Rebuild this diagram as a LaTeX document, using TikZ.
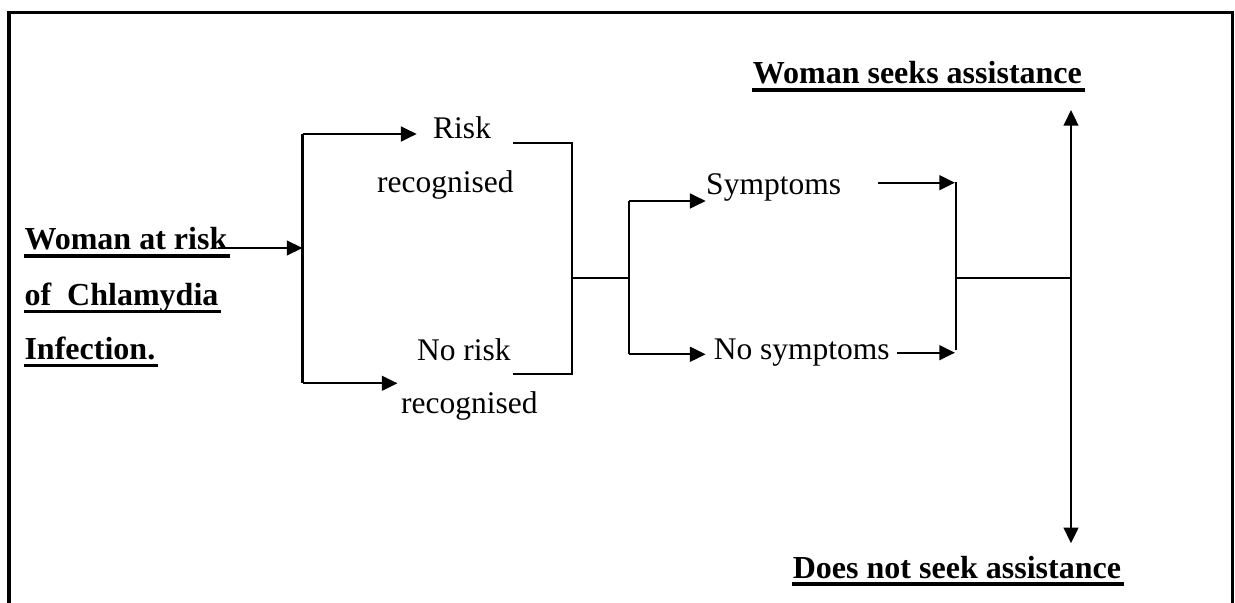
\documentclass[tikz,border=0pt]{standalone}
\usepackage{fontspec}
\setmainfont{Liberation Serif}
\usetikzlibrary{arrows.meta}
\begin{document}
\begin{tikzpicture}[x=0.381pt,y=-0.381pt,
  lbl/.style={anchor=base west, inner sep=0pt, font=\fontsize{12pt}{14pt}\selectfont},
  head/.style={lbl, font=\fontsize{12.2pt}{14pt}\selectfont\bfseries},
  link/.style={line width=0.9pt},
  tip/.tip={Triangle[length=6pt,width=5.6pt]},
  flow/.style={link, -tip},
  uline/.style={line width=1.3pt},
  frame/.style={line width=1.2pt}]
\useasboundingbox (0,0) rectangle (1235,603);
% open frame around the chart
\draw[frame] (9,603) -- (9,12.7) -- (1232.5,12.7) -- (1232.5,603);

% texts
\node[head] (w1) at (24,250) {Woman at risk};
\node[head] (w2) at (24,305.5) {of\ \ Chlamydia};
\node[head] (w3) at (24,359.5) {Infection.};
\node[lbl] (r1) at (432.7,139) {Risk};
\node[lbl] (r2) at (376.7,193) {recognised};
\node[lbl] (n1) at (416.5,360.7) {No risk};
\node[lbl] (n2) at (400.7,414) {recognised};
\node[lbl] (sy) at (705.7,195) {Symptoms};
\node[lbl] (ns) at (713.3,360) {No symptoms};
\node[head] (seek) at (752.3,84) {Woman seeks assistance};
\node[head] (noseek) at (792.3,578) {Does not seek assistance};

% underlines of the bold texts
\foreach \n in {w1,w2,w3,seek,noseek}
  \draw[uline] ([yshift=-2.3pt]\n.base west) -- ([yshift=-2.3pt,xshift=0.8pt]\n.base east);

% junction points
\coordinate (a0) at (218,248);
\coordinate (a1) at (302.5,248);
\coordinate (s1t) at (302.5,134);
\coordinate (s1b) at (302.5,383.3);
\coordinate (rt) at (416.7,134);
\coordinate (nt) at (397.5,383.3);
\coordinate (b1) at (513.3,143.3);
\coordinate (b2) at (572.3,143.3);
\coordinate (b3) at (572.3,373.8);
\coordinate (b4) at (513.3,373.8);
\coordinate (bm) at (572.3,278);
\coordinate (s2m) at (629,278);
\coordinate (s2t) at (629,201);
\coordinate (s2b) at (629,354.3);
\coordinate (syt) at (705.7,201);
\coordinate (nst) at (705.7,354.3);
\coordinate (c1) at (878.3,182.7);
\coordinate (c1t) at (955,182.7);
\coordinate (c2) at (896.7,352.7);
\coordinate (c2t) at (955,352.7);
\coordinate (j1) at (956,182);
\coordinate (j2) at (956,350);
\coordinate (jm) at (956,278);
\coordinate (om) at (1071,278);
\coordinate (up) at (1071,110);
\coordinate (dn) at (1071,543.3);

% connectors
\draw[flow] (a0) -- (a1);
\draw[link] (s1t) -- (s1b);
\draw[flow] (s1t) -- (rt);
\draw[flow] (s1b) -- (nt);
\draw[link] (b1) -- (b2) -- (b3) -- (b4);
\draw[link] (bm) -- (s2m);
\draw[link] (s2t) -- (s2b);
\draw[flow] (s2t) -- (syt);
\draw[flow] (s2b) -- (nst);
\draw[flow] (c1) -- (c1t);
\draw[flow] (c2) -- (c2t);
\draw[link] (j1) -- (j2);
\draw[link] (jm) -- (om);
\draw[link, tip-tip] (up) -- (dn);
\end{tikzpicture}
\end{document}
